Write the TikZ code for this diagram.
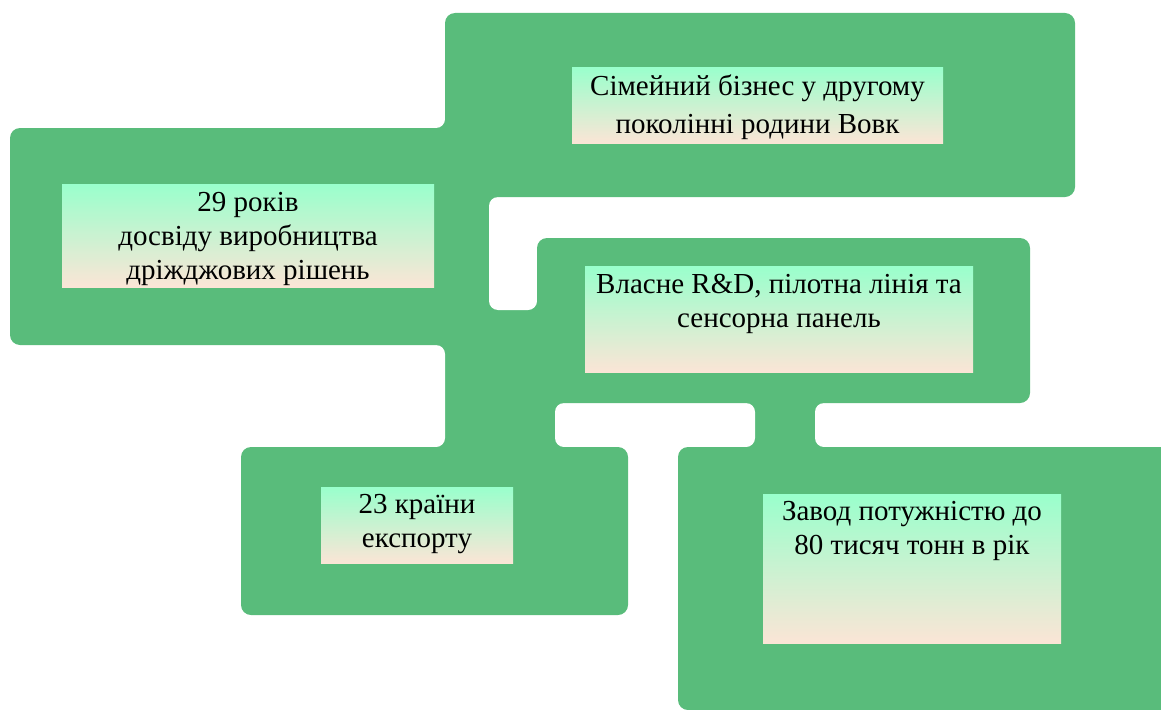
\documentclass[tikz,border=0pt]{standalone}
\usepackage{fontspec}
\setmainfont{Liberation Serif}
\usetikzlibrary{positioning}

\definecolor{verde}{RGB}{89,188,123}
\definecolor{menta}{RGB}{153,255,204}
\definecolor{pesca}{RGB}{251,229,214}

\tikzset{
    testo/.style={font=\fontsize{29}{34}\selectfont, align=center, inner sep=0pt},
    riquadro/.style={top color=menta, bottom color=pesca, draw=none, inner sep=0pt},
}

\begin{document}
\begin{tikzpicture}[x=1pt, y=-1pt]

\useasboundingbox (0,0) rectangle (1161,709);

\begin{scope}
\clip (0,0) rectangle (1161,709);

% --- Raccordi verdi (sotto) ---
\foreach \xa/\ya/\xb/\yb in {420/100/510/470, 420/300/575/470, 740/390/830/460} {
    \fill[verde] (\xa,\ya) rectangle (\xb,\yb);
}

% Spazi bianchi con angoli arrotondati
\foreach \xa/\ya/\xb/\yb in {-50/-50/445/128, -50/345/445/447, 489/197/537/310, 555/403/755/447, 815/403/1200/447} {
    \fill[white, rounded corners=9pt] (\xa,\ya) rectangle (\xb,\yb);
}

% --- Blocchi verdi ---
\foreach \xa/\ya/\xb/\yb in {445/13/1075/197, 10/128/470/345, 537/238/1030/403, 241/447/628/615, 678/447/1180/710} {
    \fill[verde, rounded corners=10pt] (\xa,\ya) rectangle (\xb,\yb);
}
\end{scope}

% --- Riquadri con il testo ---
\node[riquadro, minimum width=371pt, minimum height=76pt] (famiglia) at (757.5,105) {};
\node[testo, font=\fontsize{29}{38}\selectfont, below=8pt of famiglia.north] (famigliaTesto)
    {Сімейний бізнес у другому\\поколінні родини Вовк};

\node[riquadro, minimum width=372pt, minimum height=103pt] (anni) at (248,235.5) {};
\node[testo, below=8pt of anni.north] (anniTesto)
    {29 років\\досвіду виробництва\\дріжджових рішень};

\node[riquadro, minimum width=388pt, minimum height=106pt] (ricerca) at (779,319) {};
\node[testo, below=8pt of ricerca.north] (ricercaTesto)
    {Власне R\&D, пілотна лінія та\\сенсорна панель};

\node[riquadro, minimum width=192pt, minimum height=76pt] (paesi) at (417,525) {};
\node[testo, below=7pt of paesi.north] (paesiTesto)
    {23 країни\\експорту};

\node[riquadro, minimum width=298pt, minimum height=149pt] (impianto) at (912,568.5) {};
\node[testo, below=7pt of impianto.north] (impiantoTesto)
    {Завод потужністю до\\80 тисяч тонн в рік};

\end{tikzpicture}
\end{document}
